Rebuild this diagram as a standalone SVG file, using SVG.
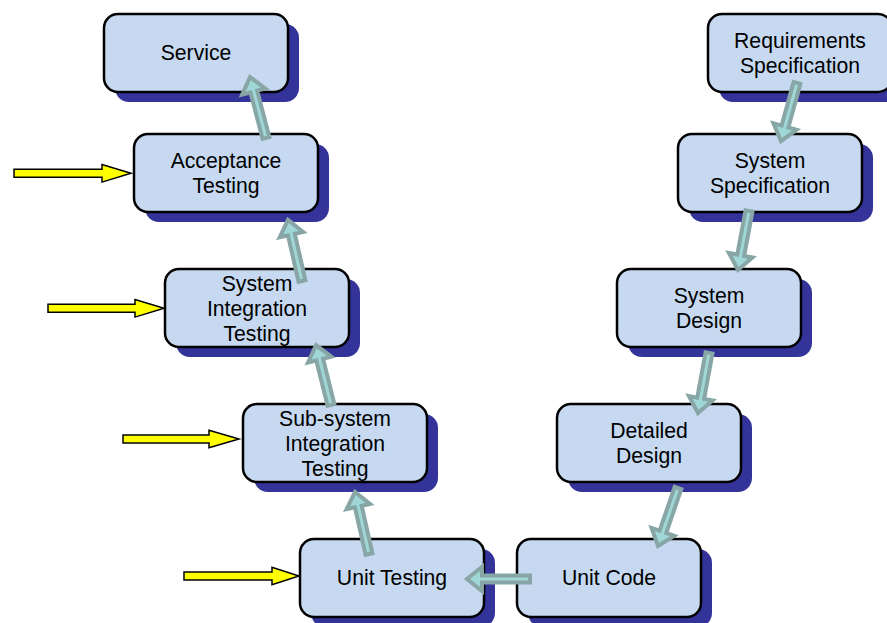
<svg xmlns="http://www.w3.org/2000/svg" width="887" height="623" viewBox="0 0 887 623">
  <style>
    .shadow { fill: #333399; }
    .box { fill: #c6d9f1; stroke: #000000; stroke-width: 2.5; }
    .label { font-family: "Liberation Sans", Arial, sans-serif; font-size: 21.2px; fill: #000000; text-anchor: middle; }
    .flow { fill: #9fd7d7; stroke: #88a6a6; stroke-width: 4; stroke-linejoin: miter; stroke-miterlimit: 3; }
    .input { fill: #ffff00; stroke: #000000; stroke-width: 1.5; }
  </style>

  <rect width="887" height="623" fill="#ffffff"/>

  <!-- Verification side (left column) -->
  <g id="service">
    <rect class="shadow" x="115" y="24" width="184" height="78" rx="14"/>
    <rect class="box" x="104" y="14" width="184" height="78" rx="14"/>
    <text class="label" x="196" y="60">Service</text>
  </g>
  <g id="acceptance-testing">
    <rect class="shadow" x="145" y="144" width="184" height="78" rx="14"/>
    <rect class="box" x="134" y="134" width="184" height="78" rx="14"/>
    <text class="label" x="226" y="167.5">Acceptance</text>
    <text class="label" x="226" y="192.5">Testing</text>
  </g>
  <g id="system-integration-testing">
    <rect class="shadow" x="176" y="279" width="184" height="78" rx="14"/>
    <rect class="box" x="165" y="269" width="184" height="78" rx="14"/>
    <text class="label" x="257" y="290.5">System</text>
    <text class="label" x="257" y="315.5">Integration</text>
    <text class="label" x="257" y="340.5">Testing</text>
  </g>
  <g id="subsystem-integration-testing">
    <rect class="shadow" x="254" y="414" width="184" height="78" rx="14"/>
    <rect class="box" x="243" y="404" width="184" height="78" rx="14"/>
    <text class="label" x="335" y="425.5">Sub-system</text>
    <text class="label" x="335" y="450.5">Integration</text>
    <text class="label" x="335" y="475.5">Testing</text>
  </g>
  <g id="unit-testing">
    <rect class="shadow" x="311" y="549" width="184" height="78" rx="14"/>
    <rect class="box" x="300" y="539" width="184" height="78" rx="14"/>
    <text class="label" x="392" y="585">Unit Testing</text>
  </g>

  <!-- Development side (right column) -->
  <g id="unit-code">
    <rect class="shadow" x="528" y="549" width="184" height="78" rx="14"/>
    <rect class="box" x="517" y="539" width="184" height="78" rx="14"/>
    <text class="label" x="609" y="585">Unit Code</text>
  </g>
  <g id="detailed-design">
    <rect class="shadow" x="568" y="414" width="184" height="78" rx="14"/>
    <rect class="box" x="557" y="404" width="184" height="78" rx="14"/>
    <text class="label" x="649" y="437.5">Detailed</text>
    <text class="label" x="649" y="462.5">Design</text>
  </g>
  <g id="system-design">
    <rect class="shadow" x="628" y="279" width="184" height="78" rx="14"/>
    <rect class="box" x="617" y="269" width="184" height="78" rx="14"/>
    <text class="label" x="709" y="302.5">System</text>
    <text class="label" x="709" y="327.5">Design</text>
  </g>
  <g id="system-specification">
    <rect class="shadow" x="689" y="144" width="184" height="78" rx="14"/>
    <rect class="box" x="678" y="134" width="184" height="78" rx="14"/>
    <text class="label" x="770" y="167.5">System</text>
    <text class="label" x="770" y="192.5">Specification</text>
  </g>
  <g id="requirements-specification">
    <rect class="shadow" x="719" y="24" width="184" height="78" rx="14"/>
    <rect class="box" x="708" y="14" width="184" height="78" rx="14"/>
    <text class="label" x="800" y="47.5">Requirements</text>
    <text class="label" x="800" y="72.5">Specification</text>
  </g>

  <!-- Block arrows between stages: drawn along +x from the tail, then rotated -->
  <g id="connectors">
    <path class="flow" transform="translate(266 138) rotate(-104.7)" d="M0,-3.5H48V-12L63,0L48,12V3.5H0Z"/>
    <path class="flow" transform="translate(302 281) rotate(-102.9)" d="M0,-3.5H47.6V-12L62.6,0L47.6,12V3.5H0Z"/>
    <path class="flow" transform="translate(331 405) rotate(-104)" d="M0,-3.5H46.8V-12L61.8,0L46.8,12V3.5H0Z"/>
    <path class="flow" transform="translate(369 554) rotate(-102.7)" d="M0,-3.5H48.6V-12L63.6,0L48.6,12V3.5H0Z"/>
    <path class="flow" transform="translate(530 579) rotate(180)" d="M0,-3.5H48V-12L63,0L48,12V3.5H0Z"/>
    <path class="flow" transform="translate(678 488) rotate(109)" d="M0,-3.5H46.4V-12L61.4,0L46.4,12V3.5H0Z"/>
    <path class="flow" transform="translate(709 353) rotate(100.4)" d="M0,-3.5H46V-12L61,0L46,12V3.5H0Z"/>
    <path class="flow" transform="translate(749 211) rotate(100.6)" d="M0,-3.5H45V-12L60,0L45,12V3.5H0Z"/>
    <path class="flow" transform="translate(797 83) rotate(105.4)" d="M0,-3.5H45.2V-12L60.2,0L45.2,12V3.5H0Z"/>

    <!-- Incoming yellow arrows on the testing stages -->
    <path class="input" d="M14,169.3H102V164.5L131,173.3L102,182.1V177.3H14Z"/>
    <path class="input" d="M48,304.3H135V299.5L164,308.3L135,317.1V312.3H48Z"/>
    <path class="input" d="M123,435H209V430.2L239,439L209,447.8V443H123Z"/>
    <path class="input" d="M184,572H272V567.2L299,576L272,584.8V580H184Z"/>
  </g>
</svg>
